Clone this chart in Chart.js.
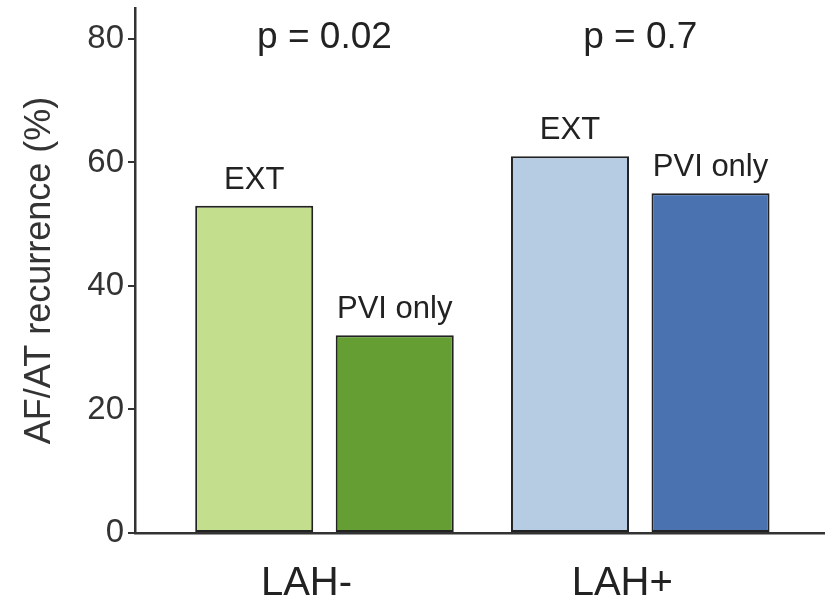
<!DOCTYPE html>
<html>
<head>
<meta charset="utf-8">
<script src="https://cdn.jsdelivr.net/npm/chart.js@4.4.1/dist/chart.umd.min.js"></script>
<style>
  html, body { margin: 0; padding: 0; background: #fff; }
  #wrap { width: 825px; height: 600px; }
</style>
</head>
<body>
<div id="wrap"><canvas id="recurrence"></canvas></div>
<script>
const groups = ['LAH-', 'LAH+'];
const extValues = [53, 61];
const pviValues = [32, 55];
const seriesNames = ['EXT', 'PVI only'];
const pValues = ['p = 0.02', 'p = 0.7'];
const yTicks = [0, 20, 40, 60, 80];

const extColors = ['#c3df8d', '#b5cce3'];
const pviColors = ['#659e32', '#4a72b0'];
const fontFam = '"Liberation Sans", Arial, sans-serif';

// bar name labels + p values on top
const barText = {
    id: 'barText',
    afterDatasetsDraw(chart) {
        const ctx = chart.ctx;
        ctx.save();
        ctx.fillStyle = '#222';
        ctx.textAlign = 'center';
        ctx.textBaseline = 'alphabetic';
        ctx.font = '31px ' + fontFam;
        chart.data.datasets.forEach((ds, i) => {
            chart.getDatasetMeta(i).data.forEach(bar => {
                ctx.fillText(ds.label, bar.x, bar.y - 17);
            });
        });
        ctx.font = '37px ' + fontFam;
        const xs = chart.scales.x;
        groups.forEach((g, i) => {
            ctx.fillText(pValues[i], xs.getPixelForValue(i), chart.scales.y.getPixelForValue(80) + 9);
        });
        ctx.restore();
    }
};

new Chart(document.getElementById('recurrence'), {
    type: 'bar',
    data: {
        labels: groups,
        datasets: [
            {
                label: seriesNames[0],
                data: extValues,
                backgroundColor: extColors,
                borderColor: '#222',
                borderWidth: 2,
                borderSkipped: false
            },
            {
                label: seriesNames[1],
                data: pviValues,
                backgroundColor: pviColors,
                borderColor: '#222',
                borderWidth: 2,
                borderSkipped: false
            }
        ]
    },
    options: {
        responsive: true,
        maintainAspectRatio: false,
        animation: false,
        categoryPercentage: 0.89,
        barPercentage: 0.84,
        layout: { padding: { top: 8, right: 0, left: 0, bottom: 0 } },
        plugins: {
            legend: { display: false },
            tooltip: { enabled: false }
        },
        scales: {
            x: {
                offset: true,
                afterBuildTicks: s => {
                    // a bit more room at both ends than the default half category
                    s._startValue = -0.6;
                    s._valueRange = 2.185;
                },
                afterFit: s => {
                    s.height = 67;
                    s.paddingLeft = 0;
                    s.paddingRight = 0;
                },
                grid: { display: false },
                border: { display: true, color: '#333', width: 2.5 },
                ticks: {
                    color: '#222',
                    padding: 19,
                    labelOffset: -18,
                    font: { family: fontFam, size: 40 }
                }
            },
            y: {
                min: 0,
                max: 85,
                afterBuildTicks: s => {
                    s.ticks = yTicks.map(v => ({ value: v }));
                },
                afterFit: s => {
                    s.width = 135;
                    s.paddingTop = 0;
                    s.paddingBottom = 0;
                },
                grid: {
                    drawOnChartArea: false,
                    drawTicks: true,
                    tickLength: 7,
                    color: '#333',
                    lineWidth: 2
                },
                border: { display: true, color: '#333', width: 2.5 },
                ticks: {
                    color: '#333',
                    padding: 4,
                    font: { family: fontFam, size: 33 }
                },
                title: {
                    display: true,
                    text: 'AF/AT recurrence (%)',
                    color: '#333',
                    padding: { top: 18, bottom: 0 },
                    font: { family: fontFam, size: 36 }
                }
            }
        }
    },
    plugins: [barText]
});
</script>
</body>
</html>
